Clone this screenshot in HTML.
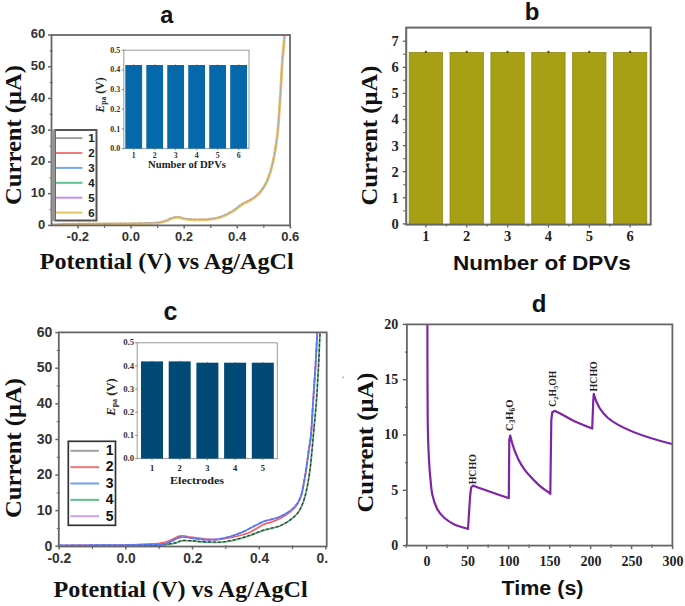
<!DOCTYPE html>
<html><head><meta charset="utf-8"><style>
html,body{margin:0;padding:0;background:#fff;}
svg{display:block;}
</style></head><body>
<svg width="685" height="606" viewBox="0 0 685 606">
<rect width="685" height="606" fill="#fff"/>
<text x="166.8" y="23" font-family='"Liberation Sans", sans-serif' font-size="23.5" font-weight="bold" text-anchor="middle" fill="#111">a</text>
<clipPath id="ca"><rect x="51.5" y="35" width="238.5" height="190.4"/></clipPath>
<g clip-path="url(#ca)">
<path d="M51.5,224.8 C53.8,224.7 60.6,224.4 65.0,224.3 C69.4,224.2 71.3,224.2 78.0,224.2 C84.7,224.1 96.2,224.1 105.0,224.0 C113.8,223.9 124.3,223.9 131.0,223.8 C137.7,223.7 140.5,223.7 145.0,223.5 C149.5,223.3 154.5,223.2 158.0,222.8 C161.5,222.4 163.8,221.7 166.0,221.0 C168.2,220.3 169.2,219.2 171.0,218.6 C172.8,218.0 174.8,217.4 176.5,217.3 C178.2,217.2 179.4,217.7 181.0,218.0 C182.6,218.3 183.8,218.9 186.0,219.2 C188.2,219.5 190.3,219.7 194.0,219.8 C197.7,219.9 203.7,220.0 208.0,219.6 C212.3,219.2 216.0,218.7 220.0,217.4 C224.0,216.1 228.3,214.0 232.0,211.8 C235.7,209.7 239.3,206.2 242.0,204.5 C244.7,202.8 245.6,202.9 248.0,201.5 C250.4,200.1 254.0,198.2 256.5,196.0 C259.0,193.8 261.1,191.2 263.0,188.4 C264.9,185.6 266.3,183.4 268.0,179.0 C269.7,174.6 271.7,167.7 273.0,162.0 C274.3,156.3 275.2,150.5 276.0,145.0 C276.8,139.5 277.3,137.2 278.0,129.0 C278.7,120.8 279.6,107.0 280.3,96.0 C281.0,85.0 281.5,73.2 282.2,63.0 C282.9,52.8 284.1,42.2 284.6,35.0 C285.2,27.8 285.4,22.5 285.5,20.0" fill="none" stroke="#e8c46c" stroke-width="2.8" stroke-linejoin="round" stroke-linecap="round"/>
<path d="M51.8,224.2 C54.0,224.1 60.9,223.8 65.3,223.7 C69.7,223.6 71.6,223.7 78.3,223.6 C85.0,223.5 96.5,223.5 105.3,223.4 C114.1,223.3 124.6,223.3 131.3,223.2 C138.0,223.1 140.8,223.1 145.3,222.9 C149.8,222.7 154.8,222.6 158.3,222.2 C161.8,221.8 164.1,221.1 166.3,220.4 C168.5,219.7 169.6,218.6 171.3,218.0 C173.1,217.4 175.1,216.8 176.8,216.7 C178.5,216.6 179.7,217.1 181.3,217.4 C182.9,217.7 184.1,218.3 186.3,218.6 C188.5,218.9 190.6,219.1 194.3,219.2 C198.0,219.3 204.0,219.4 208.3,219.0 C212.6,218.6 216.3,218.1 220.3,216.8 C224.3,215.5 228.6,213.4 232.3,211.2 C236.0,209.1 239.6,205.6 242.3,203.9 C245.0,202.2 245.9,202.3 248.3,200.9 C250.7,199.5 254.3,197.6 256.8,195.4 C259.3,193.2 261.4,190.6 263.3,187.8 C265.2,185.0 266.6,182.8 268.3,178.4 C270.0,174.0 272.0,167.1 273.3,161.4 C274.6,155.7 275.5,149.9 276.3,144.4 C277.1,138.9 277.6,136.6 278.3,128.4 C279.0,120.2 279.9,106.4 280.6,95.4 C281.3,84.4 281.8,72.6 282.5,62.4 C283.2,52.2 284.4,41.6 284.9,34.4 C285.5,27.2 285.7,21.9 285.8,19.4" fill="none" stroke="#a0a0a0" stroke-width="1.1" stroke-linejoin="round" stroke-linecap="round" stroke-dasharray="1.2 9" stroke-dashoffset="0.0" opacity="0.8"/>
<path d="M51.2,224.3 C53.5,224.2 60.3,223.9 64.7,223.8 C69.1,223.7 71.0,223.8 77.7,223.7 C84.4,223.6 95.9,223.6 104.7,223.5 C113.5,223.4 124.0,223.4 130.7,223.3 C137.4,223.2 140.2,223.2 144.7,223.0 C149.2,222.8 154.2,222.7 157.7,222.3 C161.2,221.9 163.5,221.2 165.7,220.5 C167.9,219.8 168.9,218.7 170.7,218.1 C172.4,217.5 174.5,216.9 176.2,216.8 C177.9,216.7 179.1,217.2 180.7,217.5 C182.3,217.8 183.5,218.4 185.7,218.7 C187.9,219.0 190.0,219.2 193.7,219.3 C197.4,219.4 203.4,219.5 207.7,219.1 C212.0,218.7 215.7,218.2 219.7,216.9 C223.7,215.6 228.0,213.5 231.7,211.3 C235.4,209.2 239.0,205.7 241.7,204.0 C244.4,202.3 245.3,202.4 247.7,201.0 C250.1,199.6 253.7,197.7 256.2,195.5 C258.7,193.3 260.8,190.7 262.7,187.9 C264.6,185.1 266.0,182.9 267.7,178.5 C269.4,174.1 271.4,167.2 272.7,161.5 C274.0,155.8 274.9,150.0 275.7,144.5 C276.5,139.0 277.0,136.7 277.7,128.5 C278.4,120.3 279.3,106.5 280.0,95.5 C280.7,84.5 281.2,72.7 281.9,62.5 C282.6,52.3 283.8,41.7 284.3,34.5 C284.9,27.3 285.1,22.0 285.2,19.5" fill="none" stroke="#f07c7c" stroke-width="1.1" stroke-linejoin="round" stroke-linecap="round" stroke-dasharray="1.2 9" stroke-dashoffset="2.1" opacity="0.8"/>
<path d="M51.7,224.0 C54.0,223.9 60.8,223.6 65.2,223.5 C69.6,223.4 71.5,223.4 78.2,223.4 C84.9,223.3 96.4,223.3 105.2,223.2 C114.0,223.1 124.5,223.1 131.2,223.0 C137.9,222.9 140.7,222.9 145.2,222.7 C149.7,222.5 154.7,222.4 158.2,222.0 C161.7,221.6 164.0,220.9 166.2,220.2 C168.4,219.5 169.4,218.4 171.2,217.8 C172.9,217.2 175.0,216.6 176.7,216.5 C178.4,216.4 179.6,216.9 181.2,217.2 C182.8,217.5 184.0,218.1 186.2,218.4 C188.4,218.7 190.5,218.9 194.2,219.0 C197.9,219.1 203.9,219.2 208.2,218.8 C212.5,218.4 216.2,217.9 220.2,216.6 C224.2,215.3 228.5,213.2 232.2,211.0 C235.9,208.8 239.5,205.4 242.2,203.7 C244.9,202.0 245.8,202.1 248.2,200.7 C250.6,199.3 254.2,197.4 256.7,195.2 C259.2,193.0 261.3,190.4 263.2,187.6 C265.1,184.8 266.5,182.6 268.2,178.2 C269.9,173.8 271.9,166.9 273.2,161.2 C274.5,155.5 275.4,149.7 276.2,144.2 C277.0,138.7 277.5,136.4 278.2,128.2 C278.9,120.0 279.8,106.2 280.5,95.2 C281.2,84.2 281.7,72.4 282.4,62.2 C283.1,52.0 284.2,41.4 284.8,34.2 C285.4,27.0 285.6,21.7 285.7,19.2" fill="none" stroke="#78a8f0" stroke-width="1.1" stroke-linejoin="round" stroke-linecap="round" stroke-dasharray="1.2 9" stroke-dashoffset="4.2" opacity="0.8"/>
<path d="M51.5,224.4 C53.8,224.3 60.6,224.0 65.0,223.9 C69.4,223.8 71.3,223.8 78.0,223.8 C84.7,223.7 96.2,223.7 105.0,223.6 C113.8,223.5 124.3,223.5 131.0,223.4 C137.7,223.3 140.5,223.3 145.0,223.1 C149.5,222.9 154.5,222.8 158.0,222.4 C161.5,222.0 163.8,221.3 166.0,220.6 C168.2,219.9 169.2,218.8 171.0,218.2 C172.8,217.6 174.8,217.0 176.5,216.9 C178.2,216.8 179.4,217.3 181.0,217.6 C182.6,217.9 183.8,218.5 186.0,218.8 C188.2,219.1 190.3,219.3 194.0,219.4 C197.7,219.5 203.7,219.6 208.0,219.2 C212.3,218.8 216.0,218.3 220.0,217.0 C224.0,215.7 228.3,213.6 232.0,211.4 C235.7,209.2 239.3,205.8 242.0,204.1 C244.7,202.4 245.6,202.5 248.0,201.1 C250.4,199.7 254.0,197.8 256.5,195.6 C259.0,193.4 261.1,190.8 263.0,188.0 C264.9,185.2 266.3,183.0 268.0,178.6 C269.7,174.2 271.7,167.3 273.0,161.6 C274.3,155.9 275.2,150.1 276.0,144.6 C276.8,139.1 277.3,136.8 278.0,128.6 C278.7,120.4 279.6,106.6 280.3,95.6 C281.0,84.6 281.5,72.8 282.2,62.6 C282.9,52.4 284.1,41.8 284.6,34.6 C285.2,27.4 285.4,22.1 285.5,19.6" fill="none" stroke="#60c090" stroke-width="1.1" stroke-linejoin="round" stroke-linecap="round" stroke-dasharray="1.2 9" stroke-dashoffset="6.300000000000001" opacity="0.8"/>
<path d="M51.3,224.1 C53.5,224.0 60.4,223.7 64.8,223.6 C69.2,223.5 71.1,223.6 77.8,223.5 C84.5,223.4 96.0,223.4 104.8,223.3 C113.6,223.2 124.1,223.2 130.8,223.1 C137.5,223.0 140.3,223.0 144.8,222.8 C149.3,222.6 154.3,222.5 157.8,222.1 C161.3,221.7 163.6,221.0 165.8,220.3 C168.0,219.6 169.1,218.5 170.8,217.9 C172.6,217.3 174.6,216.7 176.3,216.6 C178.0,216.5 179.2,217.0 180.8,217.3 C182.4,217.6 183.6,218.2 185.8,218.5 C188.0,218.8 190.1,219.0 193.8,219.1 C197.5,219.2 203.5,219.3 207.8,218.9 C212.1,218.5 215.8,218.0 219.8,216.7 C223.8,215.4 228.1,213.3 231.8,211.1 C235.5,209.0 239.1,205.5 241.8,203.8 C244.5,202.1 245.4,202.2 247.8,200.8 C250.2,199.4 253.8,197.5 256.3,195.3 C258.8,193.1 260.9,190.5 262.8,187.7 C264.7,184.9 266.1,182.7 267.8,178.3 C269.5,173.9 271.5,167.0 272.8,161.3 C274.1,155.6 275.0,149.8 275.8,144.3 C276.6,138.8 277.1,136.5 277.8,128.3 C278.5,120.1 279.4,106.3 280.1,95.3 C280.8,84.3 281.3,72.5 282.0,62.3 C282.7,52.1 283.9,41.5 284.4,34.3 C285.0,27.1 285.2,21.8 285.3,19.3" fill="none" stroke="#c890f0" stroke-width="1.1" stroke-linejoin="round" stroke-linecap="round" stroke-dasharray="1.2 9" stroke-dashoffset="8.4" opacity="0.8"/>
</g>
<rect x="51.50" y="35.00" width="238.50" height="190.40" fill="none" stroke="#666" stroke-width="1.8"/>
<line x1="48.00" y1="225.40" x2="51.50" y2="225.40" stroke="#666" stroke-width="1.5"/>
<text x="45.2" y="228.70000000000002" font-family='"Liberation Sans", sans-serif' font-size="13" font-weight="bold" text-anchor="end" fill="#333">0</text>
<line x1="48.00" y1="193.67" x2="51.50" y2="193.67" stroke="#666" stroke-width="1.5"/>
<text x="45.2" y="196.9666666666667" font-family='"Liberation Sans", sans-serif' font-size="13" font-weight="bold" text-anchor="end" fill="#333">10</text>
<line x1="48.00" y1="161.93" x2="51.50" y2="161.93" stroke="#666" stroke-width="1.5"/>
<text x="45.2" y="165.23333333333335" font-family='"Liberation Sans", sans-serif' font-size="13" font-weight="bold" text-anchor="end" fill="#333">20</text>
<line x1="48.00" y1="130.20" x2="51.50" y2="130.20" stroke="#666" stroke-width="1.5"/>
<text x="45.2" y="133.5" font-family='"Liberation Sans", sans-serif' font-size="13" font-weight="bold" text-anchor="end" fill="#333">30</text>
<line x1="48.00" y1="98.47" x2="51.50" y2="98.47" stroke="#666" stroke-width="1.5"/>
<text x="45.2" y="101.76666666666667" font-family='"Liberation Sans", sans-serif' font-size="13" font-weight="bold" text-anchor="end" fill="#333">40</text>
<line x1="48.00" y1="66.73" x2="51.50" y2="66.73" stroke="#666" stroke-width="1.5"/>
<text x="45.2" y="70.03333333333335" font-family='"Liberation Sans", sans-serif' font-size="13" font-weight="bold" text-anchor="end" fill="#333">50</text>
<line x1="48.00" y1="35.00" x2="51.50" y2="35.00" stroke="#666" stroke-width="1.5"/>
<text x="45.2" y="38.3" font-family='"Liberation Sans", sans-serif' font-size="13" font-weight="bold" text-anchor="end" fill="#333">60</text>
<line x1="49.70" y1="209.53" x2="52.50" y2="209.53" stroke="#666" stroke-width="1.2"/>
<line x1="49.70" y1="177.80" x2="52.50" y2="177.80" stroke="#666" stroke-width="1.2"/>
<line x1="49.70" y1="146.07" x2="52.50" y2="146.07" stroke="#666" stroke-width="1.2"/>
<line x1="49.70" y1="114.33" x2="52.50" y2="114.33" stroke="#666" stroke-width="1.2"/>
<line x1="49.70" y1="82.60" x2="52.50" y2="82.60" stroke="#666" stroke-width="1.2"/>
<line x1="49.70" y1="50.87" x2="52.50" y2="50.87" stroke="#666" stroke-width="1.2"/>
<line x1="78.00" y1="225.40" x2="78.00" y2="228.40" stroke="#666" stroke-width="1.5"/>
<text x="77.8" y="241.1" font-family='"Liberation Sans", sans-serif' font-size="13" font-weight="bold" text-anchor="middle" fill="#333">-0.2</text>
<line x1="131.10" y1="225.40" x2="131.10" y2="228.40" stroke="#666" stroke-width="1.5"/>
<text x="130.9" y="241.1" font-family='"Liberation Sans", sans-serif' font-size="13" font-weight="bold" text-anchor="middle" fill="#333">0.0</text>
<line x1="184.20" y1="225.40" x2="184.20" y2="228.40" stroke="#666" stroke-width="1.5"/>
<text x="184.0" y="241.1" font-family='"Liberation Sans", sans-serif' font-size="13" font-weight="bold" text-anchor="middle" fill="#333">0.2</text>
<line x1="237.30" y1="225.40" x2="237.30" y2="228.40" stroke="#666" stroke-width="1.5"/>
<text x="237.10000000000002" y="241.1" font-family='"Liberation Sans", sans-serif' font-size="13" font-weight="bold" text-anchor="middle" fill="#333">0.4</text>
<line x1="290.40" y1="225.40" x2="290.40" y2="228.40" stroke="#666" stroke-width="1.5"/>
<text x="290.2" y="241.1" font-family='"Liberation Sans", sans-serif' font-size="13" font-weight="bold" text-anchor="middle" fill="#333">0.6</text>
<line x1="104.55" y1="224.40" x2="104.55" y2="227.90" stroke="#666" stroke-width="1.2"/>
<line x1="157.65" y1="224.40" x2="157.65" y2="227.90" stroke="#666" stroke-width="1.2"/>
<line x1="210.75" y1="224.40" x2="210.75" y2="227.90" stroke="#666" stroke-width="1.2"/>
<line x1="263.85" y1="224.40" x2="263.85" y2="227.90" stroke="#666" stroke-width="1.2"/>
<text x="20.8" y="135" font-family='"Liberation Serif", serif' font-size="24" font-weight="bold" text-anchor="middle" fill="#111" transform="rotate(-90 20.8 135)" textLength="140" lengthAdjust="spacingAndGlyphs">Current (μA)</text>
<text x="166.7" y="269" font-family='"Liberation Serif", serif' font-size="24" font-weight="bold" text-anchor="middle" fill="#111" textLength="254" lengthAdjust="spacingAndGlyphs">Potential (V) vs Ag/AgCl</text>
<rect x="123.80" y="50.20" width="125.20" height="98.40" fill="#fff" stroke="#999" stroke-width="1"/>
<rect x="125.30" y="65.00" width="16.80" height="83.60" fill="#0468ab" stroke="none" stroke-width="1"/>
<line x1="133.70" y1="64.40" x2="133.70" y2="65.40" stroke="#333" stroke-width="0.6"/>
<rect x="146.28" y="65.00" width="16.80" height="83.60" fill="#0468ab" stroke="none" stroke-width="1"/>
<line x1="154.68" y1="64.40" x2="154.68" y2="65.40" stroke="#333" stroke-width="0.6"/>
<rect x="167.26" y="65.00" width="16.80" height="83.60" fill="#0468ab" stroke="none" stroke-width="1"/>
<line x1="175.66" y1="64.40" x2="175.66" y2="65.40" stroke="#333" stroke-width="0.6"/>
<rect x="188.24" y="65.00" width="16.80" height="83.60" fill="#0468ab" stroke="none" stroke-width="1"/>
<line x1="196.64" y1="64.40" x2="196.64" y2="65.40" stroke="#333" stroke-width="0.6"/>
<rect x="209.22" y="65.00" width="16.80" height="83.60" fill="#0468ab" stroke="none" stroke-width="1"/>
<line x1="217.62" y1="64.40" x2="217.62" y2="65.40" stroke="#333" stroke-width="0.6"/>
<rect x="230.20" y="65.00" width="16.80" height="83.60" fill="#0468ab" stroke="none" stroke-width="1"/>
<line x1="238.60" y1="64.40" x2="238.60" y2="65.40" stroke="#333" stroke-width="0.6"/>
<line x1="121.80" y1="148.60" x2="123.80" y2="148.60" stroke="#666" stroke-width="0.8"/>
<text x="120.3" y="151.2" font-family='"Liberation Serif", serif' font-size="7.5" font-weight="bold" text-anchor="end" fill="#333" textLength="10" lengthAdjust="spacingAndGlyphs">0.0</text>
<line x1="121.80" y1="128.92" x2="123.80" y2="128.92" stroke="#666" stroke-width="0.8"/>
<text x="120.3" y="131.51999999999998" font-family='"Liberation Serif", serif' font-size="7.5" font-weight="bold" text-anchor="end" fill="#333" textLength="10" lengthAdjust="spacingAndGlyphs">0.1</text>
<line x1="121.80" y1="109.24" x2="123.80" y2="109.24" stroke="#666" stroke-width="0.8"/>
<text x="120.3" y="111.83999999999997" font-family='"Liberation Serif", serif' font-size="7.5" font-weight="bold" text-anchor="end" fill="#333" textLength="10" lengthAdjust="spacingAndGlyphs">0.2</text>
<line x1="121.80" y1="89.56" x2="123.80" y2="89.56" stroke="#666" stroke-width="0.8"/>
<text x="120.3" y="92.16" font-family='"Liberation Serif", serif' font-size="7.5" font-weight="bold" text-anchor="end" fill="#333" textLength="10" lengthAdjust="spacingAndGlyphs">0.3</text>
<line x1="121.80" y1="69.88" x2="123.80" y2="69.88" stroke="#666" stroke-width="0.8"/>
<text x="120.3" y="72.47999999999998" font-family='"Liberation Serif", serif' font-size="7.5" font-weight="bold" text-anchor="end" fill="#333" textLength="10" lengthAdjust="spacingAndGlyphs">0.4</text>
<line x1="121.80" y1="50.20" x2="123.80" y2="50.20" stroke="#666" stroke-width="0.8"/>
<text x="120.3" y="52.79999999999999" font-family='"Liberation Serif", serif' font-size="7.5" font-weight="bold" text-anchor="end" fill="#333" textLength="10" lengthAdjust="spacingAndGlyphs">0.5</text>
<line x1="133.70" y1="148.60" x2="133.70" y2="150.10" stroke="#666" stroke-width="0.8"/>
<text x="133.7" y="158.2" font-family='"Liberation Serif", serif' font-size="7.8" font-weight="bold" text-anchor="middle" fill="#333">1</text>
<line x1="154.68" y1="148.60" x2="154.68" y2="150.10" stroke="#666" stroke-width="0.8"/>
<text x="154.68" y="158.2" font-family='"Liberation Serif", serif' font-size="7.8" font-weight="bold" text-anchor="middle" fill="#333">2</text>
<line x1="175.66" y1="148.60" x2="175.66" y2="150.10" stroke="#666" stroke-width="0.8"/>
<text x="175.66" y="158.2" font-family='"Liberation Serif", serif' font-size="7.8" font-weight="bold" text-anchor="middle" fill="#333">3</text>
<line x1="196.64" y1="148.60" x2="196.64" y2="150.10" stroke="#666" stroke-width="0.8"/>
<text x="196.64000000000001" y="158.2" font-family='"Liberation Serif", serif' font-size="7.8" font-weight="bold" text-anchor="middle" fill="#333">4</text>
<line x1="217.62" y1="148.60" x2="217.62" y2="150.10" stroke="#666" stroke-width="0.8"/>
<text x="217.62" y="158.2" font-family='"Liberation Serif", serif' font-size="7.8" font-weight="bold" text-anchor="middle" fill="#333">5</text>
<line x1="238.60" y1="148.60" x2="238.60" y2="150.10" stroke="#666" stroke-width="0.8"/>
<text x="238.6" y="158.2" font-family='"Liberation Serif", serif' font-size="7.8" font-weight="bold" text-anchor="middle" fill="#333">6</text>
<text x="187" y="168" font-family='"Liberation Serif", serif' font-size="10.2" font-weight="bold" text-anchor="middle" fill="#222" textLength="78" lengthAdjust="spacingAndGlyphs">Number of DPVs</text>
<text x="103.6" y="95" font-family='"Liberation Serif", serif' font-size="11.8" font-weight="bold" fill="#222" text-anchor="middle" transform="rotate(-90 103.6 95)"><tspan font-style="italic">E</tspan><tspan font-size="7.5" dy="2">pa</tspan><tspan dy="-2"> (V)</tspan></text>
<rect x="55.00" y="130.00" width="41.50" height="90.50" fill="#fff" stroke="#555" stroke-width="2"/>
<rect x="51.50" y="129.50" width="3.80" height="91.50" fill="#959595" stroke="none" stroke-width="1"/>
<line x1="56.00" y1="138.10" x2="82.40" y2="138.10" stroke="#a0a0a0" stroke-width="2"/>
<text x="88.3" y="142.0" font-family='"Liberation Sans", sans-serif' font-size="11.5" font-weight="bold" text-anchor="start" fill="#1a1a1a">1</text>
<line x1="56.00" y1="153.00" x2="82.40" y2="153.00" stroke="#f07c7c" stroke-width="2"/>
<text x="88.3" y="156.9" font-family='"Liberation Sans", sans-serif' font-size="11.5" font-weight="bold" text-anchor="start" fill="#1a1a1a">2</text>
<line x1="56.00" y1="167.90" x2="82.40" y2="167.90" stroke="#78a8f0" stroke-width="2"/>
<text x="88.3" y="171.8" font-family='"Liberation Sans", sans-serif' font-size="11.5" font-weight="bold" text-anchor="start" fill="#1a1a1a">3</text>
<line x1="56.00" y1="182.80" x2="82.40" y2="182.80" stroke="#60c090" stroke-width="2"/>
<text x="88.3" y="186.70000000000002" font-family='"Liberation Sans", sans-serif' font-size="11.5" font-weight="bold" text-anchor="start" fill="#1a1a1a">4</text>
<line x1="56.00" y1="197.70" x2="82.40" y2="197.70" stroke="#c890f0" stroke-width="2"/>
<text x="88.3" y="201.6" font-family='"Liberation Sans", sans-serif' font-size="11.5" font-weight="bold" text-anchor="start" fill="#1a1a1a">5</text>
<line x1="56.00" y1="212.60" x2="82.40" y2="212.60" stroke="#e6c064" stroke-width="2"/>
<text x="88.3" y="216.5" font-family='"Liberation Sans", sans-serif' font-size="11.5" font-weight="bold" text-anchor="start" fill="#1a1a1a">6</text>
<text x="532.2" y="20" font-family='"Liberation Sans", sans-serif' font-size="24" font-weight="bold" text-anchor="middle" fill="#111">b</text>
<rect x="409.20" y="52.50" width="33.30" height="172.10" fill="#a79f14" stroke="#8e8712" stroke-width="0.8"/>
<rect x="424.85" y="50.80" width="2.00" height="2.20" fill="#5a5510" stroke="none" stroke-width="1"/>
<rect x="450.06" y="52.50" width="33.30" height="172.10" fill="#a79f14" stroke="#8e8712" stroke-width="0.8"/>
<rect x="465.71" y="50.80" width="2.00" height="2.20" fill="#5a5510" stroke="none" stroke-width="1"/>
<rect x="490.92" y="52.50" width="33.30" height="172.10" fill="#a79f14" stroke="#8e8712" stroke-width="0.8"/>
<rect x="506.57" y="50.80" width="2.00" height="2.20" fill="#5a5510" stroke="none" stroke-width="1"/>
<rect x="531.78" y="52.50" width="33.30" height="172.10" fill="#a79f14" stroke="#8e8712" stroke-width="0.8"/>
<rect x="547.43" y="50.80" width="2.00" height="2.20" fill="#5a5510" stroke="none" stroke-width="1"/>
<rect x="572.64" y="52.50" width="33.30" height="172.10" fill="#a79f14" stroke="#8e8712" stroke-width="0.8"/>
<rect x="588.29" y="50.80" width="2.00" height="2.20" fill="#5a5510" stroke="none" stroke-width="1"/>
<rect x="613.50" y="52.50" width="33.30" height="172.10" fill="#a79f14" stroke="#8e8712" stroke-width="0.8"/>
<rect x="629.15" y="50.80" width="2.00" height="2.20" fill="#5a5510" stroke="none" stroke-width="1"/>
<rect x="406.20" y="27.60" width="244.50" height="197.00" fill="none" stroke="#666" stroke-width="2"/>
<line x1="402.70" y1="223.90" x2="406.20" y2="223.90" stroke="#666" stroke-width="1.3"/>
<text x="398.8" y="228.8" font-family='"Liberation Serif", serif' font-size="14.5" font-weight="bold" text-anchor="end" fill="#222">0</text>
<line x1="402.70" y1="197.80" x2="406.20" y2="197.80" stroke="#666" stroke-width="1.3"/>
<text x="398.8" y="202.70000000000002" font-family='"Liberation Serif", serif' font-size="14.5" font-weight="bold" text-anchor="end" fill="#222">1</text>
<line x1="402.70" y1="171.70" x2="406.20" y2="171.70" stroke="#666" stroke-width="1.3"/>
<text x="398.8" y="176.6" font-family='"Liberation Serif", serif' font-size="14.5" font-weight="bold" text-anchor="end" fill="#222">2</text>
<line x1="402.70" y1="145.60" x2="406.20" y2="145.60" stroke="#666" stroke-width="1.3"/>
<text x="398.8" y="150.5" font-family='"Liberation Serif", serif' font-size="14.5" font-weight="bold" text-anchor="end" fill="#222">3</text>
<line x1="402.70" y1="119.50" x2="406.20" y2="119.50" stroke="#666" stroke-width="1.3"/>
<text x="398.8" y="124.4" font-family='"Liberation Serif", serif' font-size="14.5" font-weight="bold" text-anchor="end" fill="#222">4</text>
<line x1="402.70" y1="93.40" x2="406.20" y2="93.40" stroke="#666" stroke-width="1.3"/>
<text x="398.8" y="98.30000000000001" font-family='"Liberation Serif", serif' font-size="14.5" font-weight="bold" text-anchor="end" fill="#222">5</text>
<line x1="402.70" y1="67.30" x2="406.20" y2="67.30" stroke="#666" stroke-width="1.3"/>
<text x="398.8" y="72.19999999999999" font-family='"Liberation Serif", serif' font-size="14.5" font-weight="bold" text-anchor="end" fill="#222">6</text>
<line x1="402.70" y1="41.20" x2="406.20" y2="41.20" stroke="#666" stroke-width="1.3"/>
<text x="398.8" y="46.09999999999999" font-family='"Liberation Serif", serif' font-size="14.5" font-weight="bold" text-anchor="end" fill="#222">7</text>
<line x1="403.20" y1="210.85" x2="406.20" y2="210.85" stroke="#666" stroke-width="1.1"/>
<line x1="403.20" y1="184.75" x2="406.20" y2="184.75" stroke="#666" stroke-width="1.1"/>
<line x1="403.20" y1="158.65" x2="406.20" y2="158.65" stroke="#666" stroke-width="1.1"/>
<line x1="403.20" y1="132.55" x2="406.20" y2="132.55" stroke="#666" stroke-width="1.1"/>
<line x1="403.20" y1="106.45" x2="406.20" y2="106.45" stroke="#666" stroke-width="1.1"/>
<line x1="403.20" y1="80.35" x2="406.20" y2="80.35" stroke="#666" stroke-width="1.1"/>
<line x1="403.20" y1="54.25" x2="406.20" y2="54.25" stroke="#666" stroke-width="1.1"/>
<line x1="425.85" y1="224.60" x2="425.85" y2="227.60" stroke="#666" stroke-width="1.3"/>
<text x="425.84999999999997" y="241.3" font-family='"Liberation Serif", serif' font-size="14.5" font-weight="bold" text-anchor="middle" fill="#222">1</text>
<line x1="446.35" y1="224.60" x2="446.35" y2="226.60" stroke="#666" stroke-width="1.0"/>
<line x1="466.71" y1="224.60" x2="466.71" y2="227.60" stroke="#666" stroke-width="1.3"/>
<text x="466.71" y="241.3" font-family='"Liberation Serif", serif' font-size="14.5" font-weight="bold" text-anchor="middle" fill="#222">2</text>
<line x1="487.21" y1="224.60" x2="487.21" y2="226.60" stroke="#666" stroke-width="1.0"/>
<line x1="507.57" y1="224.60" x2="507.57" y2="227.60" stroke="#666" stroke-width="1.3"/>
<text x="507.56999999999994" y="241.3" font-family='"Liberation Serif", serif' font-size="14.5" font-weight="bold" text-anchor="middle" fill="#222">3</text>
<line x1="528.07" y1="224.60" x2="528.07" y2="226.60" stroke="#666" stroke-width="1.0"/>
<line x1="548.43" y1="224.60" x2="548.43" y2="227.60" stroke="#666" stroke-width="1.3"/>
<text x="548.43" y="241.3" font-family='"Liberation Serif", serif' font-size="14.5" font-weight="bold" text-anchor="middle" fill="#222">4</text>
<line x1="568.93" y1="224.60" x2="568.93" y2="226.60" stroke="#666" stroke-width="1.0"/>
<line x1="589.29" y1="224.60" x2="589.29" y2="227.60" stroke="#666" stroke-width="1.3"/>
<text x="589.29" y="241.3" font-family='"Liberation Serif", serif' font-size="14.5" font-weight="bold" text-anchor="middle" fill="#222">5</text>
<line x1="609.79" y1="224.60" x2="609.79" y2="226.60" stroke="#666" stroke-width="1.0"/>
<line x1="630.15" y1="224.60" x2="630.15" y2="227.60" stroke="#666" stroke-width="1.3"/>
<text x="630.15" y="241.3" font-family='"Liberation Serif", serif' font-size="14.5" font-weight="bold" text-anchor="middle" fill="#222">6</text>
<text x="376.5" y="135.5" font-family='"Liberation Serif", serif' font-size="24" font-weight="bold" text-anchor="middle" fill="#111" transform="rotate(-90 376.5 135.5)" textLength="140" lengthAdjust="spacingAndGlyphs">Current (μA)</text>
<text x="541.9" y="270.4" font-family='"Liberation Sans", sans-serif' font-size="20.5" font-weight="bold" text-anchor="middle" fill="#111" textLength="178" lengthAdjust="spacingAndGlyphs">Number of DPVs</text>
<text x="170.5" y="320" font-family='"Liberation Sans", sans-serif' font-size="25" font-weight="bold" text-anchor="middle" fill="#111">c</text>
<clipPath id="cc"><rect x="58.8" y="332.4" width="267.9" height="213.9"/></clipPath>
<g clip-path="url(#cc)">
<path d="M59.0,546.2 C64.2,546.2 79.0,546.1 90.0,546.0 C101.0,545.9 115.0,545.9 125.0,545.8 C135.0,545.7 143.4,545.6 150.0,545.5 C156.6,545.4 160.2,545.4 164.6,544.9 C169.0,544.4 173.4,543.5 176.3,542.8 C179.2,542.1 179.2,541.1 182.1,540.8 C185.0,540.5 190.7,540.9 193.8,541.1 C197.0,541.3 196.6,541.7 201.0,541.9 C205.4,542.1 214.9,542.5 220.0,542.3 C225.1,542.1 227.9,541.4 231.8,540.6 C235.7,539.8 240.4,538.5 243.4,537.7 C246.4,536.8 246.6,536.7 250.0,535.5 C253.4,534.3 260.3,531.4 263.6,530.3 C266.9,529.2 267.3,529.5 270.0,528.8 C272.7,528.1 276.7,527.4 280.0,526.0 C283.3,524.6 287.0,522.5 290.0,520.3 C293.0,518.1 295.8,515.7 298.0,512.8 C300.2,509.9 301.6,506.5 303.0,502.9 C304.4,499.3 305.2,496.0 306.3,491.3 C307.4,486.6 308.5,480.4 309.3,474.9 C310.1,469.4 310.7,464.6 311.3,458.3 C311.9,452.0 312.4,446.5 313.2,437.3 C314.0,428.1 315.4,414.7 316.3,402.9 C317.2,391.1 317.9,378.2 318.5,366.6 C319.1,355.0 319.6,341.6 320.0,333.0 C320.4,324.4 320.8,318.2 321.0,315.3" fill="none" stroke="#58b07a" stroke-width="1.8" stroke-linejoin="round" stroke-linecap="round"/>
<path d="M59.0,545.9 C64.2,545.9 79.0,545.8 90.0,545.7 C101.0,545.6 115.0,545.6 125.0,545.5 C135.0,545.4 143.4,545.4 150.0,545.2 C156.6,545.1 160.2,545.1 164.6,544.6 C169.0,544.1 173.4,543.2 176.3,542.5 C179.2,541.8 179.2,540.8 182.1,540.5 C185.0,540.2 190.7,540.6 193.8,540.8 C197.0,541.0 196.6,541.4 201.0,541.6 C205.4,541.8 214.9,542.2 220.0,542.0 C225.1,541.8 227.9,541.1 231.8,540.3 C235.7,539.5 240.4,538.2 243.4,537.4 C246.4,536.5 246.6,536.4 250.0,535.2 C253.4,534.0 260.3,531.1 263.6,530.0 C266.9,528.9 267.3,529.2 270.0,528.5 C272.7,527.8 276.7,527.1 280.0,525.7 C283.3,524.3 287.0,522.2 290.0,520.0 C293.0,517.8 295.8,515.4 298.0,512.5 C300.2,509.6 301.6,506.2 303.0,502.6 C304.4,499.0 305.2,495.7 306.3,491.0 C307.4,486.3 308.5,480.1 309.3,474.6 C310.1,469.1 310.7,464.3 311.3,458.0 C311.9,451.7 312.4,446.2 313.2,437.0 C314.0,427.8 315.4,414.4 316.3,402.6 C317.2,390.8 317.9,378.0 318.5,366.3 C319.1,354.6 319.6,341.2 320.0,332.7 C320.4,324.1 320.8,317.9 321.0,315.0" fill="none" stroke="#333" stroke-width="1.2" stroke-linejoin="round" stroke-linecap="round" stroke-dasharray="2 3"/>
<path d="M59.0,545.6 C64.2,545.5 79.0,545.4 90.0,545.3 C101.0,545.2 115.0,545.2 125.0,545.0 C135.0,544.8 144.1,544.5 150.0,544.2 C155.9,543.9 157.0,543.7 160.2,543.2 C163.4,542.7 166.6,541.9 169.0,541.0 C171.4,540.1 173.1,538.9 174.8,538.1 C176.5,537.3 177.5,536.6 179.2,536.2 C180.9,535.9 183.1,535.8 185.0,536.0 C186.9,536.2 188.2,536.8 190.9,537.2 C193.6,537.6 198.1,537.9 201.0,538.3 C203.9,538.7 205.7,539.2 208.4,539.4 C211.1,539.6 214.6,539.6 217.0,539.5 C219.4,539.4 220.5,539.2 223.0,538.9 C225.5,538.5 228.4,538.1 231.8,537.4 C235.2,536.7 240.4,535.4 243.4,534.5 C246.4,533.6 246.6,534.0 250.0,532.3 C253.4,530.6 260.3,526.1 263.6,524.5 C266.9,522.9 267.3,523.5 270.0,522.5 C272.7,521.5 276.7,520.2 280.0,518.5 C283.3,516.8 287.1,514.3 290.0,512.0 C292.9,509.7 295.3,507.3 297.2,504.5 C299.1,501.7 300.3,498.6 301.4,495.0 C302.5,491.4 303.0,487.5 303.8,483.0 C304.6,478.5 305.5,473.5 306.3,468.0 C307.1,462.5 308.0,455.5 308.8,449.8 C309.6,444.1 310.3,441.9 311.0,434.0 C311.7,426.1 312.3,413.9 313.0,402.6 C313.7,391.3 314.7,378.0 315.4,366.3 C316.1,354.6 316.8,341.2 317.2,332.7 C317.6,324.1 317.9,317.9 318.0,315.0" fill="none" stroke="#f06262" stroke-width="1.7" stroke-linejoin="round" stroke-linecap="round"/>
<path d="M59.3,545.4 C64.5,545.4 79.3,545.3 90.3,545.2 C101.3,545.1 115.3,545.1 125.3,545.0 C135.3,544.9 143.7,544.6 150.3,544.4 C156.9,544.2 161.2,544.4 164.9,543.8 C168.6,543.2 170.0,542.0 172.2,541.0 C174.4,540.0 176.1,538.8 178.0,538.1 C179.9,537.4 181.7,537.0 183.9,537.0 C186.1,537.0 188.3,537.6 191.2,538.0 C194.1,538.4 197.9,539.1 201.3,539.4 C204.7,539.7 208.4,539.7 211.6,539.6 C214.8,539.5 216.9,539.5 220.3,538.9 C223.7,538.3 228.2,537.2 232.1,536.0 C236.0,534.8 240.7,532.9 243.7,531.6 C246.7,530.3 246.9,529.9 250.3,528.2 C253.7,526.5 260.6,522.8 263.9,521.4 C267.2,520.0 267.6,520.6 270.3,519.8 C273.0,519.0 277.0,518.1 280.3,516.6 C283.6,515.1 287.4,513.1 290.3,510.9 C293.2,508.7 295.6,506.1 297.5,503.4 C299.4,500.6 300.6,497.8 301.7,494.4 C302.8,491.0 303.3,487.2 304.1,482.8 C304.9,478.4 305.8,473.5 306.6,468.0 C307.4,462.5 308.3,455.5 309.1,449.8 C309.9,444.1 310.6,441.9 311.3,434.0 C312.0,426.1 312.6,413.9 313.3,402.6 C314.0,391.3 315.0,378.0 315.7,366.3 C316.4,354.6 317.1,341.2 317.5,332.7 C317.9,324.1 318.2,317.9 318.3,315.0" fill="none" stroke="#c08cf0" stroke-width="1.6" stroke-linejoin="round" stroke-linecap="round"/>
<path d="M59.0,545.4 C64.2,545.4 79.0,545.3 90.0,545.2 C101.0,545.1 115.0,545.1 125.0,545.0 C135.0,544.9 143.4,544.6 150.0,544.4 C156.6,544.2 160.9,544.4 164.6,543.8 C168.2,543.2 169.7,542.0 171.9,541.0 C174.1,540.0 175.8,538.8 177.7,538.1 C179.6,537.4 181.4,537.0 183.6,537.0 C185.8,537.0 188.0,537.6 190.9,538.0 C193.8,538.4 197.6,539.1 201.0,539.4 C204.4,539.7 208.1,539.7 211.3,539.6 C214.5,539.5 216.6,539.5 220.0,538.9 C223.4,538.3 227.9,537.2 231.8,536.0 C235.7,534.8 240.4,532.9 243.4,531.6 C246.4,530.3 246.6,529.9 250.0,528.2 C253.4,526.5 260.3,522.8 263.6,521.4 C266.9,520.0 267.3,520.6 270.0,519.8 C272.7,519.0 276.7,518.1 280.0,516.6 C283.3,515.1 287.1,513.1 290.0,510.9 C292.9,508.7 295.3,506.1 297.2,503.4 C299.1,500.6 300.3,497.8 301.4,494.4 C302.5,491.0 303.0,487.2 303.8,482.8 C304.6,478.4 305.5,473.5 306.3,468.0 C307.1,462.5 308.0,455.5 308.8,449.8 C309.6,444.1 310.3,441.9 311.0,434.0 C311.7,426.1 312.3,413.9 313.0,402.6 C313.7,391.3 314.7,378.0 315.4,366.3 C316.1,354.6 316.8,341.2 317.2,332.7 C317.6,324.1 317.9,317.9 318.0,315.0" fill="none" stroke="#4a78f0" stroke-width="1.7" stroke-linejoin="round" stroke-linecap="round" stroke-dasharray="4 2"/>
</g>
<rect x="58.80" y="332.40" width="267.90" height="214.10" fill="none" stroke="#666" stroke-width="1.8"/>
<line x1="55.30" y1="546.30" x2="58.80" y2="546.30" stroke="#666" stroke-width="1.5"/>
<text x="52.3" y="550.5" font-family='"Liberation Sans", sans-serif' font-size="14" font-weight="bold" text-anchor="end" fill="#333">0</text>
<line x1="55.30" y1="510.68" x2="58.80" y2="510.68" stroke="#666" stroke-width="1.5"/>
<text x="52.3" y="514.8833333333333" font-family='"Liberation Sans", sans-serif' font-size="14" font-weight="bold" text-anchor="end" fill="#333">10</text>
<line x1="55.30" y1="475.07" x2="58.80" y2="475.07" stroke="#666" stroke-width="1.5"/>
<text x="52.3" y="479.2666666666666" font-family='"Liberation Sans", sans-serif' font-size="14" font-weight="bold" text-anchor="end" fill="#333">20</text>
<line x1="55.30" y1="439.45" x2="58.80" y2="439.45" stroke="#666" stroke-width="1.5"/>
<text x="52.3" y="443.6499999999999" font-family='"Liberation Sans", sans-serif' font-size="14" font-weight="bold" text-anchor="end" fill="#333">30</text>
<line x1="55.30" y1="403.83" x2="58.80" y2="403.83" stroke="#666" stroke-width="1.5"/>
<text x="52.3" y="408.03333333333325" font-family='"Liberation Sans", sans-serif' font-size="14" font-weight="bold" text-anchor="end" fill="#333">40</text>
<line x1="55.30" y1="368.22" x2="58.80" y2="368.22" stroke="#666" stroke-width="1.5"/>
<text x="52.3" y="372.4166666666666" font-family='"Liberation Sans", sans-serif' font-size="14" font-weight="bold" text-anchor="end" fill="#333">50</text>
<line x1="55.30" y1="332.60" x2="58.80" y2="332.60" stroke="#666" stroke-width="1.5"/>
<text x="52.3" y="336.79999999999995" font-family='"Liberation Sans", sans-serif' font-size="14" font-weight="bold" text-anchor="end" fill="#333">60</text>
<line x1="56.80" y1="528.49" x2="59.80" y2="528.49" stroke="#666" stroke-width="1.2"/>
<line x1="56.80" y1="492.87" x2="59.80" y2="492.87" stroke="#666" stroke-width="1.2"/>
<line x1="56.80" y1="457.26" x2="59.80" y2="457.26" stroke="#666" stroke-width="1.2"/>
<line x1="56.80" y1="421.64" x2="59.80" y2="421.64" stroke="#666" stroke-width="1.2"/>
<line x1="56.80" y1="386.02" x2="59.80" y2="386.02" stroke="#666" stroke-width="1.2"/>
<line x1="56.80" y1="350.41" x2="59.80" y2="350.41" stroke="#666" stroke-width="1.2"/>
<line x1="59.10" y1="546.50" x2="59.10" y2="549.50" stroke="#666" stroke-width="1.5"/>
<text x="59.39999999999999" y="563.3" font-family='"Liberation Sans", sans-serif' font-size="13.8" font-weight="bold" text-anchor="middle" fill="#333">-0.2</text>
<line x1="125.80" y1="546.50" x2="125.80" y2="549.50" stroke="#666" stroke-width="1.5"/>
<text x="126.1" y="563.3" font-family='"Liberation Sans", sans-serif' font-size="13.8" font-weight="bold" text-anchor="middle" fill="#333">0.0</text>
<line x1="192.50" y1="546.50" x2="192.50" y2="549.50" stroke="#666" stroke-width="1.5"/>
<text x="192.8" y="563.3" font-family='"Liberation Sans", sans-serif' font-size="13.8" font-weight="bold" text-anchor="middle" fill="#333">0.2</text>
<line x1="259.20" y1="546.50" x2="259.20" y2="549.50" stroke="#666" stroke-width="1.5"/>
<text x="259.5" y="563.3" font-family='"Liberation Sans", sans-serif' font-size="13.8" font-weight="bold" text-anchor="middle" fill="#333">0.4</text>
<line x1="325.90" y1="546.50" x2="325.90" y2="549.50" stroke="#666" stroke-width="1.5"/>
<clipPath id="c06"><rect x="300" y="540" width="28" height="30"/></clipPath>
<g clip-path="url(#c06)">
<text x="326.2" y="563.3" font-family='"Liberation Sans", sans-serif' font-size="13.8" font-weight="bold" text-anchor="middle" fill="#333">0.6</text>
</g>
<line x1="92.45" y1="545.50" x2="92.45" y2="549.00" stroke="#666" stroke-width="1.2"/>
<line x1="159.15" y1="545.50" x2="159.15" y2="549.00" stroke="#666" stroke-width="1.2"/>
<line x1="225.85" y1="545.50" x2="225.85" y2="549.00" stroke="#666" stroke-width="1.2"/>
<line x1="292.55" y1="545.50" x2="292.55" y2="549.00" stroke="#666" stroke-width="1.2"/>
<text x="21" y="448" font-family='"Liberation Serif", serif' font-size="24" font-weight="bold" text-anchor="middle" fill="#111" transform="rotate(-90 21 448)" textLength="140" lengthAdjust="spacingAndGlyphs">Current (μA)</text>
<text x="180.6" y="596.5" font-family='"Liberation Serif", serif' font-size="24" font-weight="bold" text-anchor="middle" fill="#111" textLength="254" lengthAdjust="spacingAndGlyphs">Potential (V) vs Ag/AgCl</text>
<rect x="137.20" y="342.80" width="140.10" height="115.80" fill="#fff" stroke="#999" stroke-width="1"/>
<rect x="141.00" y="361.40" width="22.00" height="97.20" fill="#014a76" stroke="none" stroke-width="1"/>
<line x1="152.00" y1="360.80" x2="152.00" y2="361.90" stroke="#333" stroke-width="0.6"/>
<rect x="168.70" y="361.40" width="22.00" height="97.20" fill="#014a76" stroke="none" stroke-width="1"/>
<line x1="179.70" y1="360.80" x2="179.70" y2="361.90" stroke="#333" stroke-width="0.6"/>
<rect x="196.40" y="362.70" width="22.00" height="95.90" fill="#014a76" stroke="none" stroke-width="1"/>
<line x1="207.40" y1="362.10" x2="207.40" y2="363.20" stroke="#333" stroke-width="0.6"/>
<rect x="224.10" y="362.70" width="22.00" height="95.90" fill="#014a76" stroke="none" stroke-width="1"/>
<line x1="235.10" y1="362.10" x2="235.10" y2="363.20" stroke="#333" stroke-width="0.6"/>
<rect x="251.80" y="362.70" width="22.00" height="95.90" fill="#014a76" stroke="none" stroke-width="1"/>
<line x1="262.80" y1="362.10" x2="262.80" y2="363.20" stroke="#333" stroke-width="0.6"/>
<line x1="135.20" y1="458.60" x2="137.20" y2="458.60" stroke="#666" stroke-width="0.8"/>
<text x="134.2" y="461.20000000000005" font-family='"Liberation Serif", serif' font-size="7.8" font-weight="bold" text-anchor="end" fill="#333" textLength="11" lengthAdjust="spacingAndGlyphs">0.0</text>
<line x1="135.20" y1="435.44" x2="137.20" y2="435.44" stroke="#666" stroke-width="0.8"/>
<text x="134.2" y="438.04" font-family='"Liberation Serif", serif' font-size="7.8" font-weight="bold" text-anchor="end" fill="#333" textLength="11" lengthAdjust="spacingAndGlyphs">0.1</text>
<line x1="135.20" y1="412.28" x2="137.20" y2="412.28" stroke="#666" stroke-width="0.8"/>
<text x="134.2" y="414.88000000000005" font-family='"Liberation Serif", serif' font-size="7.8" font-weight="bold" text-anchor="end" fill="#333" textLength="11" lengthAdjust="spacingAndGlyphs">0.2</text>
<line x1="135.20" y1="389.12" x2="137.20" y2="389.12" stroke="#666" stroke-width="0.8"/>
<text x="134.2" y="391.72" font-family='"Liberation Serif", serif' font-size="7.8" font-weight="bold" text-anchor="end" fill="#333" textLength="11" lengthAdjust="spacingAndGlyphs">0.3</text>
<line x1="135.20" y1="365.96" x2="137.20" y2="365.96" stroke="#666" stroke-width="0.8"/>
<text x="134.2" y="368.56000000000006" font-family='"Liberation Serif", serif' font-size="7.8" font-weight="bold" text-anchor="end" fill="#333" textLength="11" lengthAdjust="spacingAndGlyphs">0.4</text>
<line x1="135.20" y1="342.80" x2="137.20" y2="342.80" stroke="#666" stroke-width="0.8"/>
<text x="134.2" y="345.40000000000003" font-family='"Liberation Serif", serif' font-size="7.8" font-weight="bold" text-anchor="end" fill="#333" textLength="11" lengthAdjust="spacingAndGlyphs">0.5</text>
<line x1="152.00" y1="458.60" x2="152.00" y2="460.10" stroke="#666" stroke-width="0.8"/>
<text x="152.0" y="471" font-family='"Liberation Serif", serif' font-size="8.5" font-weight="bold" text-anchor="middle" fill="#222">1</text>
<line x1="179.70" y1="458.60" x2="179.70" y2="460.10" stroke="#666" stroke-width="0.8"/>
<text x="179.7" y="471" font-family='"Liberation Serif", serif' font-size="8.5" font-weight="bold" text-anchor="middle" fill="#222">2</text>
<line x1="207.40" y1="458.60" x2="207.40" y2="460.10" stroke="#666" stroke-width="0.8"/>
<text x="207.4" y="471" font-family='"Liberation Serif", serif' font-size="8.5" font-weight="bold" text-anchor="middle" fill="#222">3</text>
<line x1="235.10" y1="458.60" x2="235.10" y2="460.10" stroke="#666" stroke-width="0.8"/>
<text x="235.1" y="471" font-family='"Liberation Serif", serif' font-size="8.5" font-weight="bold" text-anchor="middle" fill="#222">4</text>
<line x1="262.80" y1="458.60" x2="262.80" y2="460.10" stroke="#666" stroke-width="0.8"/>
<text x="262.8" y="471" font-family='"Liberation Serif", serif' font-size="8.5" font-weight="bold" text-anchor="middle" fill="#222">5</text>
<text x="197" y="483.5" font-family='"Liberation Serif", serif' font-size="11" font-weight="bold" text-anchor="middle" fill="#222" textLength="54" lengthAdjust="spacingAndGlyphs">Electrodes</text>
<text x="115.2" y="397" font-family='"Liberation Serif", serif' font-size="12.6" font-weight="bold" fill="#222" text-anchor="middle" transform="rotate(-90 115.2 397)"><tspan font-style="italic">E</tspan><tspan font-size="8" dy="2.2">pa</tspan><tspan dy="-2.2"> (V)</tspan></text>
<rect x="68.30" y="441.30" width="47.20" height="84.00" fill="#fff" stroke="#333" stroke-width="1.7"/>
<line x1="70.40" y1="450.80" x2="99.00" y2="450.80" stroke="#a0a0a0" stroke-width="2"/>
<text x="105.8" y="455.1" font-family='"Liberation Sans", sans-serif' font-size="14" font-weight="bold" text-anchor="start" fill="#111">1</text>
<line x1="70.40" y1="467.15" x2="99.00" y2="467.15" stroke="#f07878" stroke-width="2"/>
<text x="105.8" y="471.45000000000005" font-family='"Liberation Sans", sans-serif' font-size="14" font-weight="bold" text-anchor="start" fill="#111">2</text>
<line x1="70.40" y1="483.50" x2="99.00" y2="483.50" stroke="#70a0f0" stroke-width="2"/>
<text x="105.8" y="487.8" font-family='"Liberation Sans", sans-serif' font-size="14" font-weight="bold" text-anchor="start" fill="#111">3</text>
<line x1="70.40" y1="499.85" x2="99.00" y2="499.85" stroke="#60c088" stroke-width="2"/>
<text x="105.8" y="504.15000000000003" font-family='"Liberation Sans", sans-serif' font-size="14" font-weight="bold" text-anchor="start" fill="#111">4</text>
<line x1="70.40" y1="516.20" x2="99.00" y2="516.20" stroke="#c8a0f0" stroke-width="2"/>
<text x="105.8" y="520.5" font-family='"Liberation Sans", sans-serif' font-size="14" font-weight="bold" text-anchor="start" fill="#111">5</text>
<text x="539.2" y="311.5" font-family='"Liberation Sans", sans-serif' font-size="24" font-weight="bold" text-anchor="middle" fill="#111">d</text>
<clipPath id="cd"><rect x="407" y="324.4" width="265.4" height="221"/></clipPath>
<g clip-path="url(#cd)">
<path d="M427.4,318.0 C427.4,328.3 427.4,361.3 427.5,380.0 C427.6,398.7 427.6,416.7 427.9,430.0 C428.1,443.3 428.6,452.3 429.0,460.0 C429.4,467.7 429.6,470.6 430.2,476.3 C430.8,482.0 431.1,488.9 432.3,494.4 C433.5,499.8 435.2,505.1 437.2,509.0 C439.2,512.9 441.6,515.4 444.5,518.0 C447.4,520.6 450.5,522.6 454.4,524.4 C458.3,526.2 465.7,528.2 468.0,529.0 L470.2,495 L471.2,487.5 L473,485.6 C484,490 498,494.5 508.8,498.2 L509.3,440 L510.2,435.5 C514,452 520,466 530,476 C537,484 543,489 549,492.5 L550.3,494 L551.3,420 L552.2,412.5 L554.5,410.8 C561,413.5 566,417 572,420 C579,423.5 586,426 592.2,428.5 L593.3,400 L593.8,393.8 C596,403 600,411 608,418 C620,428 640,436 672,444" fill="none" stroke="#7f24a6" stroke-width="2.2" stroke-linejoin="round"/>
</g>
<rect x="406.90" y="324.40" width="265.50" height="221.20" fill="none" stroke="#666" stroke-width="1.8"/>
<line x1="402.90" y1="545.60" x2="406.90" y2="545.60" stroke="#666" stroke-width="1.5"/>
<text x="398.3" y="549.9" font-family='"Liberation Serif", serif' font-size="14" font-weight="bold" text-anchor="end" fill="#222">0</text>
<line x1="402.90" y1="490.30" x2="406.90" y2="490.30" stroke="#666" stroke-width="1.5"/>
<text x="398.3" y="494.6" font-family='"Liberation Serif", serif' font-size="14" font-weight="bold" text-anchor="end" fill="#222">5</text>
<line x1="402.90" y1="435.00" x2="406.90" y2="435.00" stroke="#666" stroke-width="1.5"/>
<text x="398.3" y="439.3" font-family='"Liberation Serif", serif' font-size="14" font-weight="bold" text-anchor="end" fill="#222">10</text>
<line x1="402.90" y1="379.70" x2="406.90" y2="379.70" stroke="#666" stroke-width="1.5"/>
<text x="398.3" y="384.00000000000006" font-family='"Liberation Serif", serif' font-size="14" font-weight="bold" text-anchor="end" fill="#222">15</text>
<line x1="402.90" y1="324.40" x2="406.90" y2="324.40" stroke="#666" stroke-width="1.5"/>
<text x="398.3" y="328.7" font-family='"Liberation Serif", serif' font-size="14" font-weight="bold" text-anchor="end" fill="#222">20</text>
<line x1="404.90" y1="517.95" x2="407.90" y2="517.95" stroke="#666" stroke-width="1.2"/>
<line x1="404.90" y1="462.65" x2="407.90" y2="462.65" stroke="#666" stroke-width="1.2"/>
<line x1="404.90" y1="407.35" x2="407.90" y2="407.35" stroke="#666" stroke-width="1.2"/>
<line x1="404.90" y1="352.05" x2="407.90" y2="352.05" stroke="#666" stroke-width="1.2"/>
<line x1="426.60" y1="545.60" x2="426.60" y2="549.10" stroke="#666" stroke-width="1.5"/>
<text x="427.0" y="566.2" font-family='"Liberation Serif", serif' font-size="14" font-weight="bold" text-anchor="middle" fill="#222">0</text>
<line x1="467.60" y1="545.60" x2="467.60" y2="549.10" stroke="#666" stroke-width="1.5"/>
<text x="468.0" y="566.2" font-family='"Liberation Serif", serif' font-size="14" font-weight="bold" text-anchor="middle" fill="#222">50</text>
<line x1="508.60" y1="545.60" x2="508.60" y2="549.10" stroke="#666" stroke-width="1.5"/>
<text x="509.0" y="566.2" font-family='"Liberation Serif", serif' font-size="14" font-weight="bold" text-anchor="middle" fill="#222">100</text>
<line x1="549.60" y1="545.60" x2="549.60" y2="549.10" stroke="#666" stroke-width="1.5"/>
<text x="550.0" y="566.2" font-family='"Liberation Serif", serif' font-size="14" font-weight="bold" text-anchor="middle" fill="#222">150</text>
<line x1="590.60" y1="545.60" x2="590.60" y2="549.10" stroke="#666" stroke-width="1.5"/>
<text x="591.0" y="566.2" font-family='"Liberation Serif", serif' font-size="14" font-weight="bold" text-anchor="middle" fill="#222">200</text>
<line x1="631.60" y1="545.60" x2="631.60" y2="549.10" stroke="#666" stroke-width="1.5"/>
<text x="632.0" y="566.2" font-family='"Liberation Serif", serif' font-size="14" font-weight="bold" text-anchor="middle" fill="#222">250</text>
<line x1="672.60" y1="545.60" x2="672.60" y2="549.10" stroke="#666" stroke-width="1.5"/>
<text x="673.0" y="566.2" font-family='"Liberation Serif", serif' font-size="14" font-weight="bold" text-anchor="middle" fill="#222">300</text>
<line x1="406.10" y1="544.60" x2="406.10" y2="548.10" stroke="#666" stroke-width="1.2"/>
<line x1="447.10" y1="544.60" x2="447.10" y2="548.10" stroke="#666" stroke-width="1.2"/>
<line x1="488.10" y1="544.60" x2="488.10" y2="548.10" stroke="#666" stroke-width="1.2"/>
<line x1="529.10" y1="544.60" x2="529.10" y2="548.10" stroke="#666" stroke-width="1.2"/>
<line x1="570.10" y1="544.60" x2="570.10" y2="548.10" stroke="#666" stroke-width="1.2"/>
<line x1="611.10" y1="544.60" x2="611.10" y2="548.10" stroke="#666" stroke-width="1.2"/>
<line x1="652.10" y1="544.60" x2="652.10" y2="548.10" stroke="#666" stroke-width="1.2"/>
<text x="372.8" y="442.5" font-family='"Liberation Serif", serif' font-size="24" font-weight="bold" text-anchor="middle" fill="#111" transform="rotate(-90 372.8 442.5)" textLength="140" lengthAdjust="spacingAndGlyphs">Current (μA)</text>
<circle cx="343.2" cy="377.3" r="0.8" fill="#888"/>
<text x="542.5" y="594.8" font-family='"Liberation Sans", sans-serif' font-size="19.5" font-weight="bold" text-anchor="middle" fill="#111" textLength="82" lengthAdjust="spacingAndGlyphs">Time (s)</text>
<text x="476.2" y="469.2" font-family='"Liberation Serif", serif' font-size="9.9" font-weight="bold" fill="#222" text-anchor="middle" transform="rotate(-90 476.2 469.2)"><tspan dy="0.0">HCHO</tspan></text>
<text x="513.2" y="415.2" font-family='"Liberation Serif", serif' font-size="10.6" font-weight="bold" fill="#222" text-anchor="middle" transform="rotate(-90 513.2 415.2)"><tspan dy="0.0">C</tspan><tspan dy="2.0" font-size="7.21">3</tspan><tspan dy="-2.0">H</tspan><tspan dy="2.0" font-size="7.21">6</tspan><tspan dy="-2.0">O</tspan></text>
<text x="556.4" y="388.7" font-family='"Liberation Serif", serif' font-size="9.6" font-weight="bold" fill="#222" text-anchor="middle" transform="rotate(-90 556.4 388.7)"><tspan dy="0.0">C</tspan><tspan dy="2.0" font-size="6.53">2</tspan><tspan dy="-2.0">H</tspan><tspan dy="2.0" font-size="6.53">5</tspan><tspan dy="-2.0">OH</tspan></text>
<text x="596.6" y="376.3" font-family='"Liberation Serif", serif' font-size="9.9" font-weight="bold" fill="#222" text-anchor="middle" transform="rotate(-90 596.6 376.3)"><tspan dy="0.0">HCHO</tspan></text>
</svg>
</body></html>
